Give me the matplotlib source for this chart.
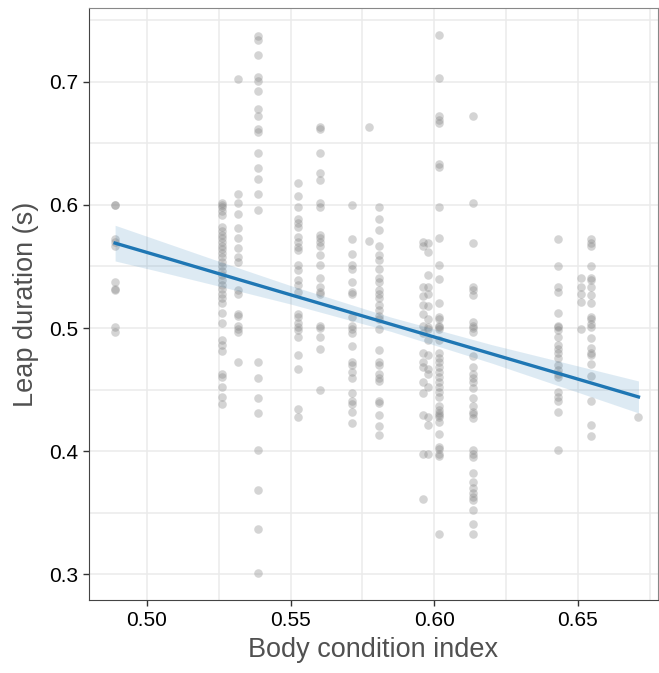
import numpy as np
import matplotlib
matplotlib.use("Agg")
import matplotlib.pyplot as plt
from matplotlib.ticker import MultipleLocator, FormatStrFormatter

plt.rcParams["font.family"] = ["Liberation Sans", "DejaVu Sans"]

# body condition index per individual, leap durations (s) for each
bci = [0.4889, 0.5261, 0.5318, 0.5387, 0.5527, 0.5604, 0.5715, 0.5772,
       0.5809, 0.5962, 0.5979, 0.6017, 0.6136, 0.6432, 0.6510, 0.6546, 0.6711]

leap = [
    [0.600, 0.600, 0.572, 0.570, 0.567, 0.537, 0.532, 0.531, 0.501, 0.497],
    [0.602, 0.600, 0.598, 0.595, 0.592, 0.582, 0.579, 0.576, 0.573, 0.570,
     0.567, 0.564, 0.561, 0.558, 0.554, 0.550, 0.546, 0.543, 0.539, 0.535,
     0.532, 0.528, 0.524, 0.520, 0.512, 0.504, 0.490, 0.486, 0.481, 0.463,
     0.460, 0.452, 0.444, 0.438],
    [0.702, 0.609, 0.602, 0.593, 0.581, 0.573, 0.565, 0.558, 0.554, 0.531,
     0.528, 0.511, 0.510, 0.502, 0.499, 0.497, 0.472],
    [0.737, 0.734, 0.722, 0.704, 0.701, 0.693, 0.678, 0.672, 0.662, 0.659,
     0.642, 0.630, 0.621, 0.609, 0.596, 0.472, 0.459, 0.443, 0.431, 0.401,
     0.368, 0.337, 0.301],
    [0.618, 0.607, 0.598, 0.589, 0.585, 0.582, 0.574, 0.570, 0.566, 0.563,
     0.551, 0.547, 0.539, 0.535, 0.529, 0.511, 0.509, 0.504, 0.501, 0.498,
     0.493, 0.478, 0.467, 0.434, 0.428],
    [0.663, 0.662, 0.642, 0.626, 0.620, 0.602, 0.598, 0.576, 0.573, 0.570,
     0.567, 0.559, 0.551, 0.541, 0.533, 0.529, 0.528, 0.502, 0.500, 0.493,
     0.483, 0.450],
    [0.600, 0.572, 0.560, 0.551, 0.548, 0.537, 0.529, 0.528, 0.509, 0.502,
     0.499, 0.496, 0.485, 0.472, 0.470, 0.464, 0.459, 0.447, 0.441, 0.438,
     0.432, 0.423],
    [0.663, 0.571],
    [0.598, 0.589, 0.580, 0.567, 0.559, 0.555, 0.548, 0.541, 0.537, 0.531,
     0.528, 0.524, 0.519, 0.515, 0.510, 0.507, 0.499, 0.482, 0.472, 0.470,
     0.463, 0.459, 0.457, 0.441, 0.439, 0.429, 0.420, 0.413],
    [0.570, 0.567, 0.533, 0.526, 0.519, 0.511, 0.502, 0.496, 0.480, 0.472,
     0.468, 0.456, 0.447, 0.429, 0.398, 0.361],
    [0.569, 0.562, 0.543, 0.533, 0.528, 0.518, 0.507, 0.501, 0.499, 0.490,
     0.478, 0.467, 0.463, 0.452, 0.428, 0.421, 0.398],
    [0.738, 0.703, 0.672, 0.669, 0.667, 0.633, 0.631, 0.598, 0.573, 0.551,
     0.540, 0.520, 0.509, 0.507, 0.502, 0.501, 0.499, 0.490, 0.480, 0.476,
     0.472, 0.468, 0.464, 0.460, 0.456, 0.452, 0.448, 0.444, 0.437, 0.433,
     0.431, 0.429, 0.428, 0.424, 0.414, 0.403, 0.402, 0.398, 0.396, 0.333],
    [0.672, 0.602, 0.569, 0.533, 0.531, 0.527, 0.505, 0.502, 0.500, 0.497,
     0.477, 0.468, 0.463, 0.459, 0.456, 0.451, 0.443, 0.437, 0.432, 0.430,
     0.427, 0.401, 0.398, 0.395, 0.382, 0.375, 0.370, 0.366, 0.363, 0.360,
     0.352, 0.341, 0.333],
    [0.572, 0.550, 0.533, 0.529, 0.512, 0.502, 0.501, 0.498, 0.493, 0.486,
     0.483, 0.480, 0.476, 0.470, 0.466, 0.463, 0.460, 0.448, 0.444, 0.441,
     0.432, 0.401],
    [0.541, 0.533, 0.528, 0.521, 0.499],
    [0.572, 0.569, 0.567, 0.550, 0.541, 0.539, 0.533, 0.527, 0.520, 0.509,
     0.507, 0.503, 0.501, 0.492, 0.484, 0.480, 0.478, 0.471, 0.461, 0.441,
     0.421, 0.412],
    [0.428],
]

# fitted line and 95% CI band
fit_x = [0.4889, 0.505, 0.526, 0.55, 0.585, 0.62, 0.65, 0.6711]
fit_y = [0.569, 0.558, 0.5435, 0.527, 0.503, 0.479, 0.4585, 0.444]
fit_lo = [0.5545, 0.5455, 0.5335, 0.5195, 0.4972, 0.4715, 0.4478, 0.431]
fit_hi = [0.5835, 0.5705, 0.5535, 0.5345, 0.5088, 0.4865, 0.4692, 0.457]

x = np.concatenate([[b] * len(v) for b, v in zip(bci, leap)])
y = np.concatenate(leap)

fig = plt.figure(figsize=(6.59, 6.73), dpi=100)
ax = fig.add_axes([0.135, 0.1085, 0.8635, 0.8795])

ax.scatter(x, y, s=38, color="#7f7f7f", alpha=0.33, linewidths=0, zorder=2)
ax.fill_between(fit_x, fit_lo, fit_hi, color="#1f77b4", alpha=0.15,
                linewidth=0, zorder=3)
ax.plot(fit_x, fit_y, color="#1f77b4", lw=2.4, zorder=4)

ax.set_xlim(0.4798, 0.6779)
ax.set_ylim(0.279, 0.760)
ax.xaxis.set_major_locator(MultipleLocator(0.05))
ax.xaxis.set_minor_locator(MultipleLocator(0.025))
ax.yaxis.set_major_locator(MultipleLocator(0.1))
ax.yaxis.set_minor_locator(MultipleLocator(0.05))
ax.xaxis.set_major_formatter(FormatStrFormatter("%.2f"))
ax.yaxis.set_major_formatter(FormatStrFormatter("%.1f"))
ax.grid(True, which="both", color="#ebebeb", lw=1.1, zorder=0)
ax.set_axisbelow(True)

ax.tick_params(which="major", length=4, width=1, color="#333333",
               labelsize=15, labelcolor="black", pad=4)
ax.tick_params(which="minor", length=0)

for side in ["top", "right"]:
    ax.spines[side].set_color("#888888")
for side in ["left", "bottom"]:
    ax.spines[side].set_color("#444444")

ax.set_xlabel("Body condition index", fontsize=19.5, color="#505050", labelpad=5)
ax.set_ylabel("Leap duration (s)", fontsize=19.5, color="#505050", labelpad=7)

fig.savefig("out.png", dpi=100)
